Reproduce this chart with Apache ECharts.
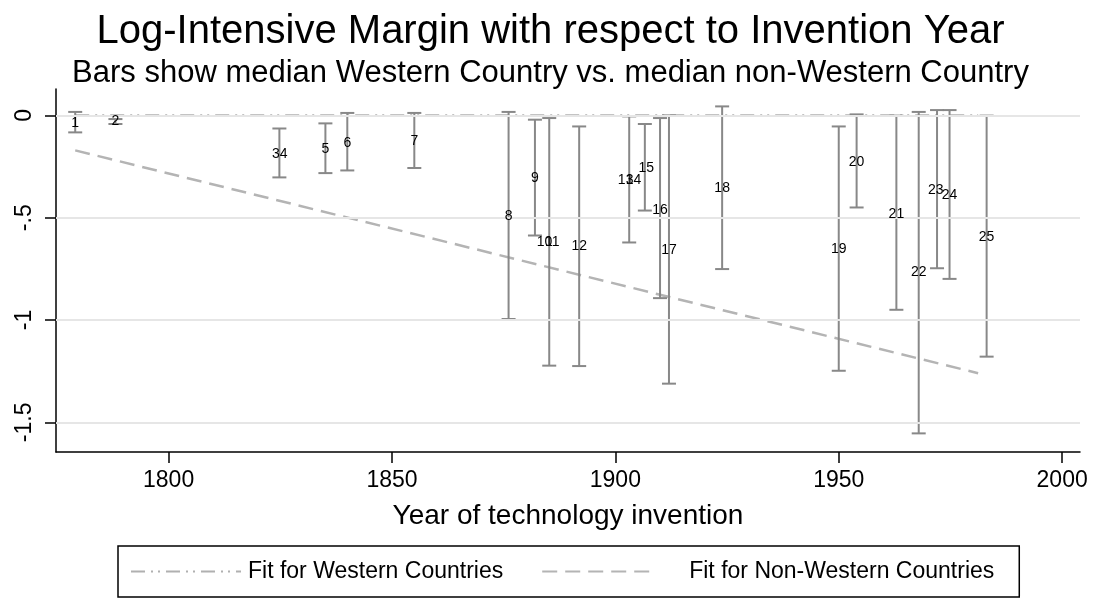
<!DOCTYPE html>
<html>
<head>
<meta charset="utf-8">
<title>Log-Intensive Margin</title>
<script src="https://cdn.jsdelivr.net/npm/echarts@6/dist/echarts.min.js"></script>
<style>
  html, body { margin: 0; padding: 0; background: #fff; }
  #chart { width: 1101px; height: 601px; }
</style>
</head>
<body>
<div id="chart"></div>
<script>
// point labels: [year, value, label]
const pointLabels = [
    [1779.1, -0.04, '1'], [1788.1, -0.03, '2'], [1824.0, -0.19, '3'], [1825.75, -0.19, '4'],
    [1835.1, -0.165, '5'], [1840.0, -0.135, '6'], [1855.0, -0.125, '7'], [1876.1, -0.494, '8'],
    [1882.0, -0.306, '9'], [1884.15, -0.621, '10'], [1885.9, -0.621, '11'], [1891.9, -0.641, '12'],
    [1902.3, -0.315, '13'], [1904.05, -0.315, '14'], [1906.9, -0.257, '15'], [1910.0, -0.461, '16'],
    [1912.0, -0.66, '17'], [1923.9, -0.355, '18'], [1950.0, -0.654, '19'], [1954.0, -0.227, '20'],
    [1962.9, -0.481, '21'], [1967.9, -0.768, '22'], [1971.7, -0.363, '23'], [1974.8, -0.391, '24'],
    [1983.1, -0.595, '25']
];

// error bars: [year, low, high]
const errorBars = [
    [1779.1, -0.083, 0.017], [1788.1, -0.042, -0.018], [1824.8, -0.303, -0.064],
    [1835.1, -0.282, -0.039], [1840.0, -0.269, 0.012], [1855.0, -0.257, 0.012],
    [1876.1, -0.995, 0.017], [1882.0, -0.587, -0.021], [1885.2, -1.223, -0.013],
    [1891.9, -1.225, -0.054], [1903.1, -0.621, -0.005], [1906.6, -0.465, -0.042],
    [1910.0, -0.893, -0.013], [1912.0, -1.311, 0.0], [1923.9, -0.751, 0.044],
    [1950.0, -1.248, -0.054], [1954.0, -0.45, 0.005], [1962.9, -0.95, -0.001],
    [1967.9, -1.554, 0.017], [1972.0, -0.747, 0.026], [1974.8, -0.799, 0.026],
    [1983.1, -1.179, -0.001]
];

// fitted lines
const fitYears = [1779.1, 1981.2];
const westernFit = [0, 0];
const nonWesternFit = [-0.171, -1.26];

// ticks
const xTicks = [1800, 1850, 1900, 1950, 2000];
const yTicks = [0, -0.5, -1, -1.5];
const yTickLabels = { '0': '0', '-0.5': '-.5', '-1': '-1', '-1.5': '-1.5' };

const FONT = 'Liberation Sans, Arial, sans-serif';
const chart = echarts.init(document.getElementById('chart'));

const option = {
    backgroundColor: '#fff',
    animation: false,
    title: [{
        text: 'Log-Intensive Margin with respect to Invention Year',
        left: 'center',
        top: 7,
        textStyle: { fontFamily: FONT, fontSize: 40, fontWeight: 'normal', color: '#000' }
    }, {
        text: 'Bars show median Western Country vs. median non-Western Country',
        left: 'center',
        top: 53,
        textStyle: { fontFamily: FONT, fontSize: 31, fontWeight: 'normal', color: '#000' }
    }],
    legend: {
        left: 118,
        top: 546,
        padding: [14, 25, 14, 12],
        itemWidth: 110,
        itemHeight: 20,
        itemGap: 38,
        borderColor: '#000',
        borderWidth: 1.5,
        borderRadius: 0,
        itemStyle: { opacity: 0 },
        data: [
            { name: 'Fit for Western Countries', textStyle: { padding: [0, 0, 0, 2] } },
            { name: 'Fit for Non-Western Countries', textStyle: { padding: [0, 0, 0, 32] } }
        ],
        textStyle: { fontFamily: FONT, fontSize: 23, color: '#000' }
    },
    grid: { left: 56, right: 21, top: 89, bottom: 149 },
    xAxis: {
        type: 'value',
        min: 1774.8,
        max: 2004,
        name: 'Year of technology invention',
        nameLocation: 'middle',
        nameGap: 50,
        nameTextStyle: { fontFamily: FONT, fontSize: 28, color: '#000' },
        axisLine: { onZero: false, lineStyle: { color: '#000', width: 1.5 } },
        axisTick: { show: true, length: 11, lineStyle: { color: '#000', width: 1.5 }, customValues: xTicks },
        axisLabel: {
            fontFamily: FONT, fontSize: 23, color: '#000', margin: 17, customValues: xTicks,
            formatter: function(v) { return String(Math.round(v)); }
        },
        splitLine: { show: false }
    },
    yAxis: {
        type: 'value',
        min: -1.645,
        max: 0.129,
        axisLine: { show: true, onZero: false, lineStyle: { color: '#000', width: 1.5 } },
        axisTick: { show: true, length: 11, lineStyle: { color: '#000', width: 1.5 }, customValues: yTicks },
        axisLabel: {
            fontFamily: FONT, fontSize: 23, color: '#000', margin: 20, rotate: 90,
            customValues: yTicks,
            formatter: function(v) {
                const key = String(Math.round(v * 10) / 10);
                return yTickLabels[key] !== undefined ? yTickLabels[key] : key;
            }
        },
        splitLine: { show: false }
    },
    series: [
        {
            // gridlines
            type: 'line',
            z: 1,
            data: [],
            silent: true,
            markLine: {
                silent: true,
                symbol: 'none',
                label: { show: false },
                lineStyle: { color: '#e6e6e6', width: 2, type: 'solid' },
                data: yTicks.map(v => ({ yAxis: v }))
            }
        },
        {
            name: 'Fit for Western Countries',
            type: 'line',
            z: 3,
            symbol: 'none',
            data: fitYears.map((x, i) => [x, westernFit[i]]),
            lineStyle: { color: '#b0b0b0', width: 2.5, type: [14, 6, 2, 5, 2, 6] },
            itemStyle: { color: '#b0b0b0' }
        },
        {
            name: 'Fit for Non-Western Countries',
            type: 'line',
            z: 3,
            symbol: 'none',
            data: fitYears.map((x, i) => [x, nonWesternFit[i]]),
            lineStyle: { color: '#b4b4b4', width: 2.5, type: [15, 8] },
            itemStyle: { color: '#b4b4b4' }
        },
        {
            type: 'custom',
            z: 4,
            silent: true,
            data: errorBars,
            renderItem: function(params, api) {
                const x = api.value(0);
                const lo = api.coord([x, api.value(1)]);
                const hi = api.coord([x, api.value(2)]);
                const cap = 7;
                const style = { stroke: '#888888', lineWidth: 2 };
                return {
                    type: 'group',
                    children: [
                        { type: 'line', shape: { x1: lo[0], y1: lo[1], x2: hi[0], y2: hi[1] }, style: style },
                        { type: 'line', shape: { x1: lo[0] - cap, y1: lo[1], x2: lo[0] + cap, y2: lo[1] }, style: style },
                        { type: 'line', shape: { x1: hi[0] - cap, y1: hi[1], x2: hi[0] + cap, y2: hi[1] }, style: style }
                    ]
                };
            }
        },
        {
            type: 'scatter',
            z: 5,
            silent: true,
            symbolSize: 0,
            itemStyle: { opacity: 1, color: '#000' },
            data: pointLabels.map(p => ({ value: [p[0], p[1]], name: p[2] })),
            label: {
                show: true,
                position: 'inside',
                formatter: '{b}',
                fontFamily: FONT,
                fontSize: 14,
                color: '#000',
                opacity: 1,
                textBorderWidth: 0
            }
        }
    ]
};

chart.setOption(option);
</script>
</body>
</html>
